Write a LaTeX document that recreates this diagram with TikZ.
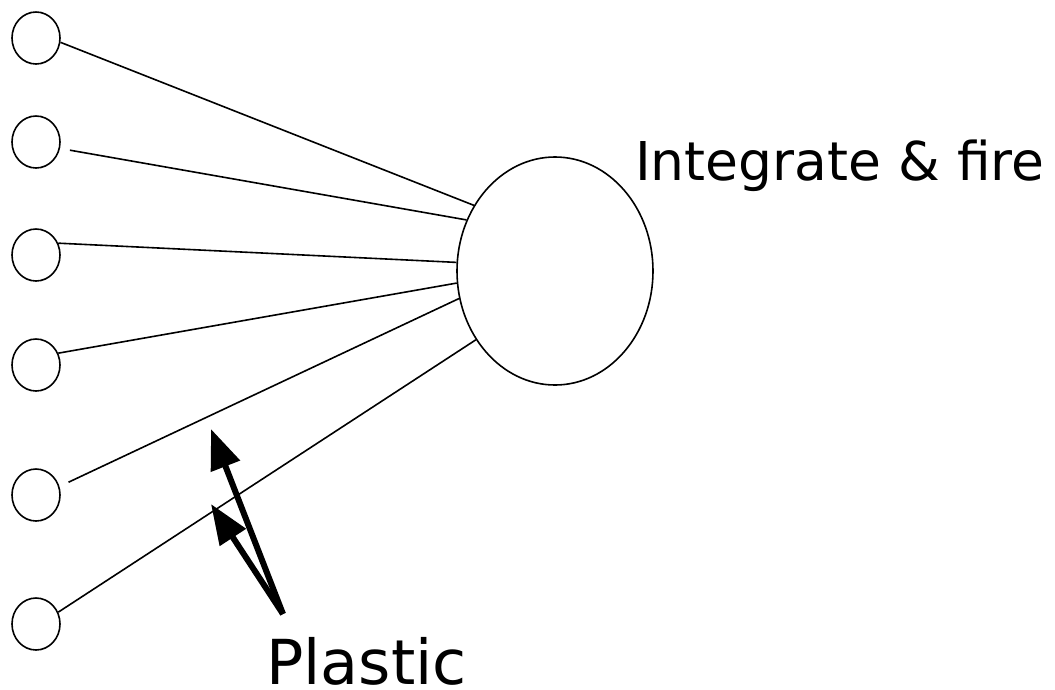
\documentclass[tikz,border=0pt]{standalone}
\usepackage{fontspec}
\setmainfont{DejaVu Sans}
\usetikzlibrary{arrows.meta, shapes.geometric}
\tikzset{
  input/.style   = {draw, ellipse, line width=1.6pt, minimum width=48pt,
                    minimum height=52pt, inner sep=0pt},
  soma/.style    = {draw, ellipse, line width=1.6pt, minimum width=196pt,
                    minimum height=228pt, inner sep=0pt},
  synapse/.style = {line width=1.6pt},
  pointer/.style = {-{Triangle[length=40pt, width=30pt]}, line width=6pt},
  label/.style   = {inner sep=0pt, anchor=base west},
}

\begin{document}
\begin{tikzpicture}[x=1pt, y=-1pt]
  \useasboundingbox (0,0) rectangle (1055,689);

  % input neurons
  \node[input] (in1) at (36,38)  {};
  \node[input] (in2) at (36,142) {};
  \node[input] (in3) at (36,255) {};
  \node[input] (in4) at (36,365) {};
  \node[input] (in5) at (36,495) {};
  \node[input] (in6) at (36,624) {};

  % output neuron
  \node[soma] (out) at (555,271) {};
  \node[label, font=\fontsize{53.5}{60}\selectfont] (iaf) at (635,180)
        {Integrate \& fire};

  % synapses
  \draw[synapse] (in1.350) -- (out.141);
  \draw[synapse, shorten <=10pt] (in2.345) -- (out.150);
  \draw[synapse] (in3.28)  -- (out.175);
  \draw[synapse] (in4.28)  -- (out.187);
  \draw[synapse, shorten <=10pt] (in5.20) -- (out.196);
  \draw[synapse] (in6.28)  -- (out.221);

  % plastic synapses
  \node[label, font=\fontsize{62}{70}\selectfont] (plastic) at (266,684)
        {Plastic};
  \coordinate (tail) at (283,614);
  \coordinate (tip1) at (211,429);
  \coordinate (tip2) at (211,504);
  \draw[pointer] (tail) -- (tip1);
  \draw[pointer] (tail) -- (tip2);
\end{tikzpicture}
\end{document}
